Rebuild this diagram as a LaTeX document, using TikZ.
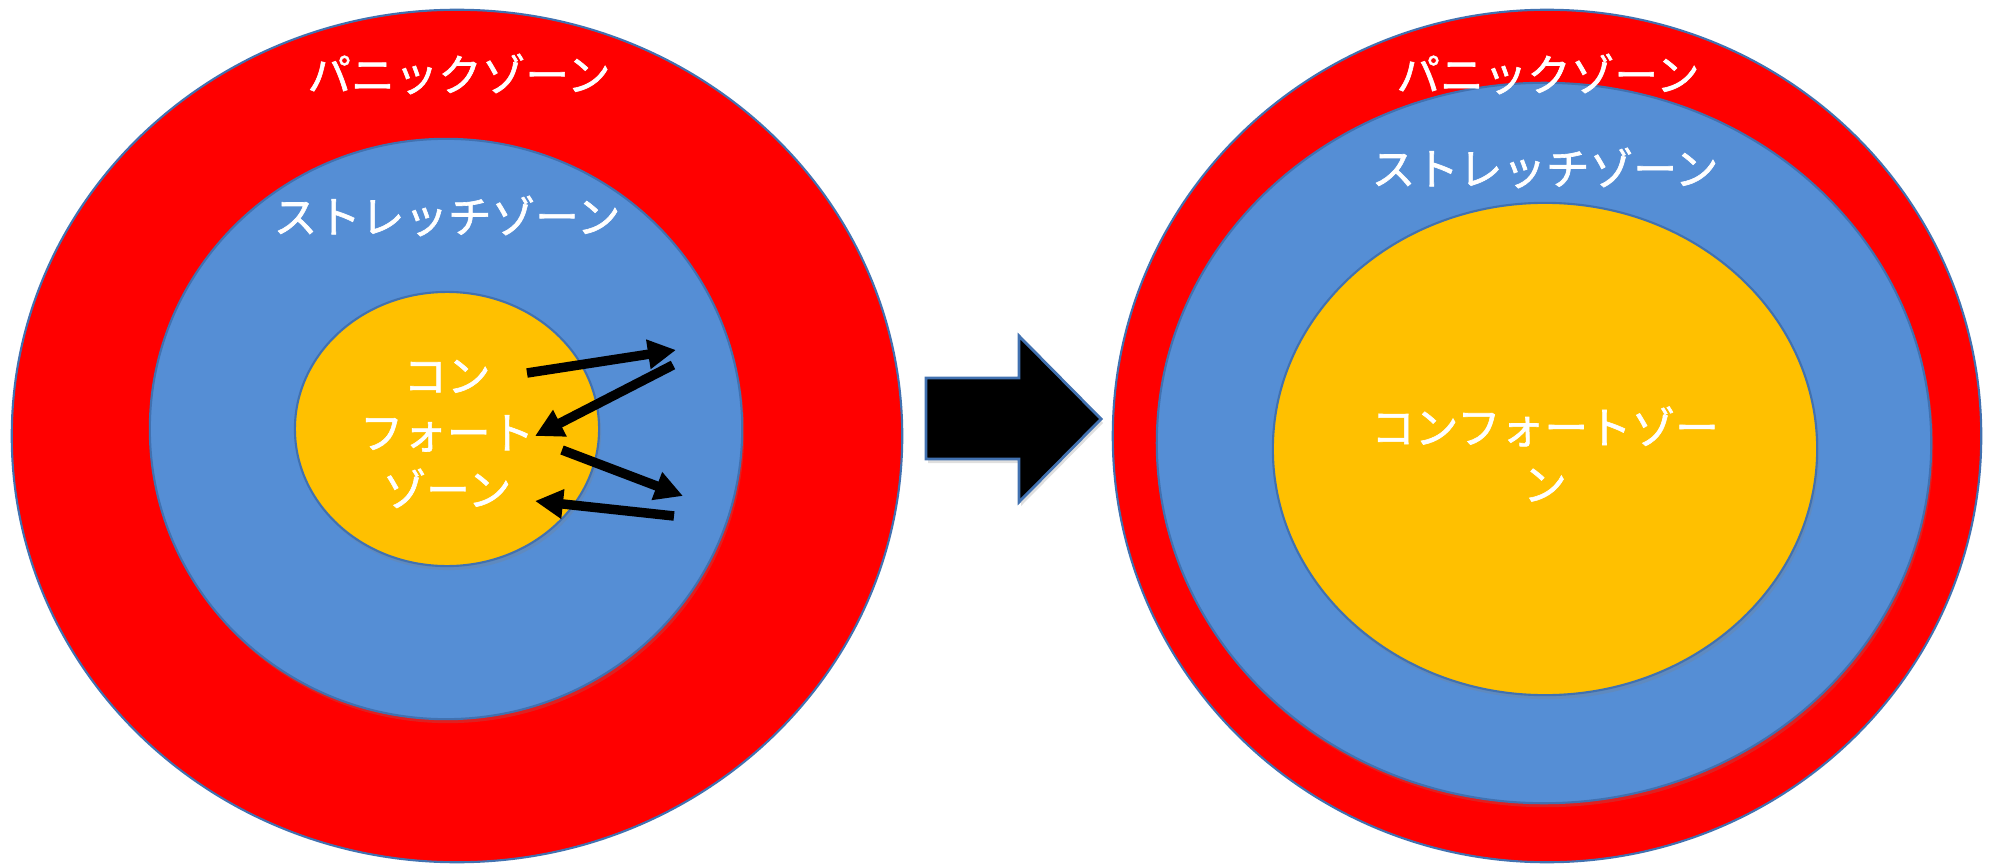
\documentclass[tikz,border=0pt]{standalone}
\usepackage{fontspec}
\setmainfont[UprightFeatures={FakeBold=1.4}]{Noto Sans CJK JP}
\usetikzlibrary{shapes.geometric,arrows.meta,shadows}
\definecolor{panicred}{RGB}{255,0,0}
\definecolor{stretchblue}{RGB}{85,142,213}
\definecolor{comfortyellow}{RGB}{255,192,0}
\definecolor{rimblue}{RGB}{65,113,176}
\tikzset{
zone/.style     = {draw=rimblue, line width=0.6pt, ellipse, inner sep=0pt, outer sep=0pt},
softshadow/.style = {drop shadow={shadow xshift=0.02cm, shadow yshift=-0.04cm, opacity=0.25}},
zonetext/.style = {text=white, font=\fontsize{12.4}{16.2}\selectfont, align=center, inner sep=0pt},
swing/.style    = {line width=0.095cm, -{Triangle[length=0.28cm,width=0.28cm]}},
bigarrow/.style = {fill=black, draw=rimblue, line width=0.8pt, line join=miter}
}

\begin{document}
\begin{tikzpicture}[x=0.01cm, y=-0.01cm]
  \useasboundingbox (0,0) rectangle (1992,864);

  % before: small comfort zone
  \node [zone, fill=panicred, minimum width=8.9cm, minimum height=8.52cm]                (lpanic)   at (457,436) {};
  \node [zone, softshadow, fill=stretchblue, minimum width=5.92cm, minimum height=5.8cm]   (lstretch) at (446,429) {};
  \node [zone, softshadow, fill=comfortyellow, minimum width=3.04cm, minimum height=2.74cm] (lcomfort) at (447,429) {};

  \node [zonetext] (lpanictext)   at (459,74)  {パニックゾーン};
  \node [zonetext] (lstretchtext) at (447,216) {ストレッチゾーン};
  \node [zonetext] (lcomforttext) at (447,434) {コン\\フォート\\ゾーン};

  % going out and coming back
  \coordinate (out1a) at (527,373);
  \coordinate (out1b) at (676,350);
  \coordinate (back1a) at (673,365);
  \coordinate (back1b) at (535,436);
  \coordinate (out2a) at (562,450);
  \coordinate (out2b) at (683,496);
  \coordinate (back2a) at (674,516);
  \coordinate (back2b) at (535,501);
  \draw [swing] (out1a) -- (out1b);
  \draw [swing] (back1a) -- (back1b);
  \draw [swing] (out2a) -- (out2b);
  \draw [swing] (back2a) -- (back2b);

  % big arrow in the middle
  \draw [bigarrow, softshadow] (926,378) -- (1019,378) -- (1019,336) -- (1101,419)
        -- (1019,502) -- (1019,459) -- (926,459) -- cycle;

  % after: comfort zone has grown
  \node [zone, fill=panicred, minimum width=8.68cm, minimum height=8.52cm]                (rpanic)   at (1547,436) {};
  \node [zone, softshadow, fill=stretchblue, minimum width=7.74cm, minimum height=7.2cm]   (rstretch) at (1544,443) {};
  \node [zone, softshadow, fill=comfortyellow, minimum width=5.44cm, minimum height=4.92cm] (rcomfort) at (1545,449) {};

  \node [zonetext] (rpanictext)   at (1548,74)  {パニックゾーン};
  \node [zonetext] (rstretchtext) at (1545,168) {ストレッチゾーン};
  \node [zonetext] (rcomforttext) at (1545,454) {コンフォートゾー\\ン};
\end{tikzpicture}
\end{document}
